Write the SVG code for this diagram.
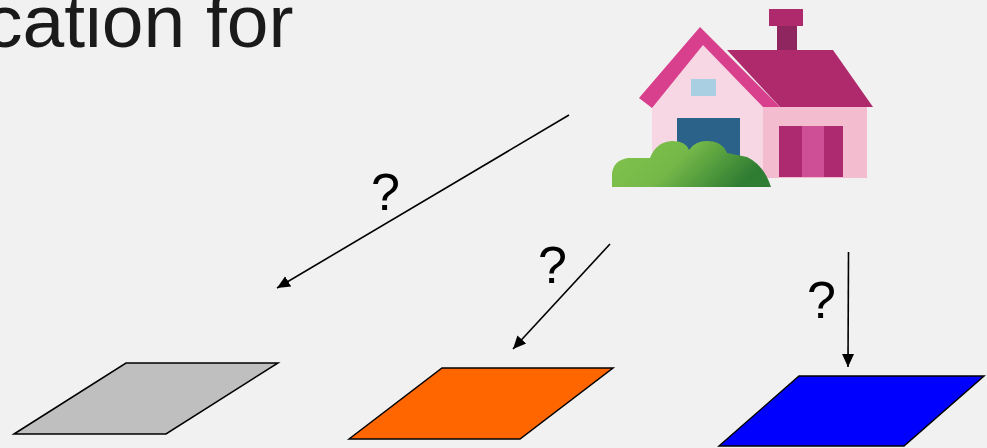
<svg xmlns="http://www.w3.org/2000/svg" width="987" height="448" viewBox="0 0 987 448">
<defs>
<marker id="arr" markerUnits="userSpaceOnUse" markerWidth="15" markerHeight="14" refX="13" refY="7" orient="auto"><path d="M0,1 L13,7 L0,13 Z" fill="#000"/></marker>
<linearGradient id="bush" x1="0" y1="0" x2="1" y2="0.3"><stop offset="0" stop-color="#84c44e"/><stop offset="0.5" stop-color="#74b848"/><stop offset="1" stop-color="#2f7d32"/></linearGradient>
<filter id="soft" x="-5%" y="-5%" width="110%" height="110%"><feGaussianBlur stdDeviation="0.6"/></filter>
</defs>
<style>
.lbl{font-family:"Liberation Sans",Arial,sans-serif;fill:#000}
.q{font-size:52px}
.shape{stroke:#000;stroke-width:1.5}
.conn{stroke:#000;stroke-width:1.6;fill:none;marker-end:url(#arr)}
</style>
<rect width="987" height="448" fill="#f1f1f1"/>
<g id="title"><text class="lbl" x="-15" y="47" font-size="75" style="fill:#1a1a1a">cation for</text></g>
<g id="house" filter="url(#soft)">
<path d="M652,100 L702,42 L764,108 V178 H652 Z" fill="#f7d7e4"/>
<path d="M763,107 H867 V178 H763 Z" fill="#f4bccf"/>
<rect x="691" y="79" width="25" height="17" fill="#a9cfe2"/>
<rect x="677" y="118" width="63" height="50" fill="#2b6289"/>
<rect x="779" y="126" width="64" height="51" fill="#ad2a70"/>
<rect x="802" y="126" width="22" height="51" fill="#cf5097"/>
<path d="M727,50 H833 L873,107 H780 Z" fill="#ae2a6c"/>
<rect x="777" y="26" width="20" height="24" fill="#8f2560"/>
<rect x="769" y="9" width="34" height="17" fill="#ae2a6c"/>
<path d="M639,98 L700,27 L780,107 H763 L703,45 L652,108 Z" fill="#d83f8d"/>
<path d="M612,187 V173 Q614,160 628,158 L650,158 Q656,142 672,141 Q686,141 689,150 Q695,141 707,141 Q722,141 727,153 L747,157 Q764,165 771,187 Z" fill="url(#bush)"/>
</g>
<g id="plane-gray"><path class="shape" d="M14,434 L126,363 H278 L166,434 Z" fill="#bfbfbf"/></g>
<g id="plane-orange"><path class="shape" d="M349,439 L442,368 H613 L520,439 Z" fill="#ff6600"/></g>
<g id="plane-blue"><path class="shape" d="M719,446 L799,376 H984 L904,446 Z" fill="#0000ff"/></g>
<g id="connectors">
<line class="conn" x1="569" y1="115" x2="277" y2="288"/>
<line class="conn" x1="610" y1="244" x2="513" y2="349"/>
<line class="conn" x1="848.5" y1="252" x2="848" y2="367"/>
</g>
<g id="labels">
<text class="lbl q" x="371" y="210">?</text>
<text class="lbl q" x="538" y="283">?</text>
<text class="lbl q" x="807" y="318">?</text>
</g>
</svg>
